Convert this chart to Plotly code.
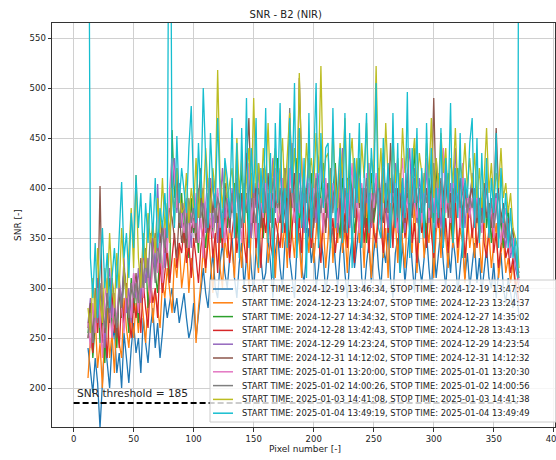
import plotly.graph_objects as go

# ---------------- data ----------------
pixels = list(range(12, 371, 2)) + [371]

start_times = ["2024-12-19 13:46:34", "2024-12-23 13:24:07", "2024-12-27 14:34:32",
               "2024-12-28 13:42:43", "2024-12-29 14:23:24", "2024-12-31 14:12:02",
               "2025-01-01 13:20:00", "2025-01-02 14:00:26", "2025-01-03 14:41:08",
               "2025-01-04 13:49:19"]
stop_times = ["2024-12-19 13:47:04", "2024-12-23 13:24:37", "2024-12-27 14:35:02",
              "2024-12-28 13:43:13", "2024-12-29 14:23:54", "2024-12-31 14:12:32",
              "2025-01-01 13:20:30", "2025-01-02 14:00:56", "2025-01-03 14:41:38",
              "2025-01-04 13:49:49"]

snr_1219 = [240, 215, 195, 230, 205, 160, 210, 250, 225, 200, 245, 260, 215, 235, 200, 255, 230, 205, 240, 265,
            235, 250, 215, 270, 245, 225, 260, 280, 240, 265, 230, 255, 290, 270, 285, 300, 275, 290, 265, 280,
            295, 270, 250, 260, 285, 250, 275, 300, 320, 295, 280, 310, 335, 300, 290, 325, 345, 315, 300, 330,
            350, 310, 290, 325, 345, 300, 335, 360, 320, 295, 340, 365, 330, 305, 315, 350, 325, 290, 335, 355,
            320, 300, 345, 365, 330, 310, 290, 340, 355, 320, 305, 335, 360, 325, 345, 300, 320, 350, 330, 295,
            315, 345, 360, 325, 300, 335, 355, 315, 290, 330, 350, 320, 340, 365, 310, 295, 325, 345, 305, 335,
            355, 320, 300, 340, 325, 360, 310, 290, 335, 350, 315, 345, 305, 330, 360, 325, 295, 340, 320, 305,
            330, 355, 320, 295, 345, 310, 335, 360, 325, 300, 340, 315, 350, 330, 295, 320, 345, 310, 335, 300,
            325, 345, 305, 330, 295, 320, 340, 310, 300, 325, 290, 315, 335, 300, 285, 310, 295, 280, 300, 285,
            270]
snr_1223 = [210, 250, 235, 270, 220, 245, 200, 260, 280, 230, 255, 215, 275, 245, 230, 290, 260, 240, 275, 250,
            285, 255, 300, 270, 245, 290, 310, 265, 295, 280, 260, 305, 290, 320, 300, 275, 330, 310, 345, 300,
            320, 345, 295, 330, 310, 245, 280, 305, 340, 315, 360, 330, 295, 345, 370, 320, 300, 350, 330, 365,
            340, 310, 375, 350, 320, 385, 345, 300, 360, 395, 335, 315, 370, 350, 390, 325, 345, 380, 310, 355,
            385, 340, 365, 320, 400, 355, 330, 375, 345, 310, 390, 360, 335, 380, 325, 355, 395, 340, 365, 320,
            350, 390, 325, 370, 345, 405, 335, 360, 315, 380, 355, 330, 395, 345, 370, 320, 385, 350, 310, 365,
            340, 375, 395, 330, 360, 310, 385, 350, 370, 325, 400, 345, 320, 380, 355, 335, 390, 315, 360, 375,
            330, 365, 345, 385, 310, 355, 375, 330, 395, 350, 320, 370, 340, 385, 325, 360, 345, 305, 375, 340,
            360, 330, 380, 345, 315, 370, 335, 355, 320, 345, 365, 310, 335, 350, 315, 330, 305, 325, 300, 310,
            295]
snr_1227 = [255, 280, 230, 265, 300, 245, 275, 225, 290, 310, 260, 280, 240, 300, 270, 320, 285, 255, 310, 275,
            300, 265, 320, 290, 335, 280, 305, 350, 315, 295, 340, 310, 360, 330, 305, 458, 390, 420, 360, 395,
            345, 375, 330, 390, 355, 370, 335, 395, 365, 340, 380, 410, 350, 375, 395, 345, 370, 405, 360, 385,
            375, 405, 350, 385, 420, 365, 395, 345, 410, 380, 360, 425, 385, 350, 400, 375, 415, 360, 390, 430,
            365, 395, 420, 370, 345, 405, 385, 430, 360, 390, 410, 355, 385, 415, 370, 400, 350, 395, 425, 375,
            405, 360, 390, 425, 375, 350, 410, 385, 365, 420, 395, 355, 380, 430, 370, 400, 345, 390, 415, 365,
            385, 420, 360, 395, 375, 410, 350, 390, 425, 370, 400, 355, 385, 415, 365, 395, 440, 375, 355, 405,
            380, 350, 410, 390, 365, 425, 375, 400, 355, 390, 415, 370, 345, 395, 420, 380, 360, 405, 375, 390,
            410, 365, 390, 350, 380, 405, 360, 385, 345, 375, 395, 350, 370, 340, 360, 380, 335, 350, 325, 315,
            305]
snr_1228 = [250, 270, 235, 285, 255, 300, 245, 265, 230, 280, 295, 255, 275, 240, 290, 265, 305, 270, 250, 285,
            270, 295, 255, 305, 280, 260, 310, 285, 300, 270, 325, 295, 315, 340, 305, 330, 355, 320, 345, 335,
            360, 325, 345, 310, 350, 330, 305, 340, 360, 320, 345, 370, 330, 355, 315, 365, 340, 380, 350, 325,
            355, 375, 335, 360, 395, 345, 325, 370, 350, 385, 340, 365, 320, 375, 355, 390, 345, 330, 370, 355,
            340, 375, 355, 390, 330, 360, 385, 345, 370, 335, 395, 355, 375, 340, 365, 390, 350, 325, 375, 360,
            385, 345, 370, 335, 360, 395, 350, 375, 340, 390, 355, 325, 380, 360, 400, 345, 370, 335, 385, 355,
            345, 380, 360, 335, 390, 355, 375, 340, 400, 365, 330, 385, 350, 370, 395, 345, 365, 325, 380, 355,
            370, 340, 385, 355, 330, 375, 360, 395, 345, 370, 335, 380, 355, 390, 340, 365, 375, 330, 360, 385,
            350, 375, 340, 365, 390, 345, 330, 360, 375, 335, 355, 320, 345, 365, 330, 340, 315, 330, 305, 295,
            285]
snr_1229 = [265, 290, 245, 275, 310, 260, 285, 240, 300, 320, 270, 295, 255, 310, 285, 330, 275, 300, 265, 315,
            290, 320, 285, 340, 305, 330, 295, 350, 315, 404, 340, 365, 320, 380, 345, 395, 430, 375, 405, 360,
            385, 355, 375, 340, 395, 365, 345, 380, 400, 355, 375, 410, 360, 390, 345, 380, 420, 370, 395, 355,
            400, 370, 420, 355, 390, 375, 435, 385, 350, 405, 380, 425, 365, 395, 415, 360, 390, 430, 375, 400,
            420, 375, 395, 360, 405, 445, 385, 370, 415, 390, 355, 400, 430, 380, 395, 365, 410, 435, 385, 400,
            370, 415, 385, 400, 355, 390, 440, 375, 405, 360, 395, 420, 380, 410, 365, 400, 385, 425, 360, 395,
            410, 375, 395, 435, 380, 360, 405, 390, 425, 370, 400, 385, 355, 415, 440, 375, 395, 365, 410, 390,
            385, 420, 365, 395, 375, 430, 400, 360, 390, 415, 380, 405, 370, 440, 395, 375, 410, 360, 395, 380,
            415, 375, 400, 360, 390, 370, 405, 355, 385, 365, 395, 350, 375, 360, 340, 365, 330, 345, 320, 310,
            300]
snr_1231 = [260, 285, 250, 300, 270, 402, 275, 255, 295, 265, 310, 280, 250, 300, 275, 320, 290, 265, 305, 285,
            315, 285, 330, 300, 340, 310, 290, 335, 355, 320, 345, 365, 335, 355, 380, 370, 350, 330, 375, 345,
            365, 340, 385, 355, 370, 345, 390, 420, 360, 380, 355, 400, 375, 395, 365, 385, 350, 405, 380, 360,
            390, 370, 410, 360, 395, 380, 425, 470, 385, 365, 405, 380, 360, 400, 385, 415, 370, 395, 380, 410,
            365, 395, 375, 350, 400, 380, 415, 375, 510, 420, 385, 400, 370, 395, 360, 410, 385, 375, 400, 355,
            405, 375, 395, 420, 365, 390, 375, 355, 410, 385, 400, 370, 415, 380, 395, 360, 400, 375, 390, 370,
            395, 420, 380, 365, 405, 375, 445, 390, 360, 400, 380, 410, 365, 395, 385, 370, 410, 385, 395, 375,
            380, 400, 375, 395, 490, 385, 365, 410, 390, 425, 370, 395, 355, 405, 385, 410, 375, 395, 380, 390,
            400, 375, 365, 390, 380, 405, 370, 385, 360, 380, 460, 395, 370, 385, 355, 370, 345, 360, 330, 320,
            315]
snr_0101 = [265, 240, 285, 255, 300, 270, 230, 290, 310, 275, 250, 295, 265, 305, 280, 255, 300, 285, 270, 315,
            300, 275, 320, 290, 340, 310, 285, 330, 350, 315, 345, 305, 360, 335, 400, 430, 415, 380, 400, 370,
            355, 390, 340, 375, 360, 395, 345, 370, 330, 385, 410, 365, 350, 380, 400, 360, 375, 345, 390, 370,
            390, 355, 415, 375, 345, 400, 380, 425, 365, 390, 350, 405, 385, 370, 410, 355, 395, 380, 420, 365,
            375, 410, 385, 355, 420, 390, 365, 400, 375, 430, 385, 360, 405, 380, 395, 415, 370, 390, 355, 410,
            380, 355, 405, 390, 365, 420, 375, 400, 360, 395, 425, 370, 390, 355, 405, 380, 415, 365, 395, 380,
            415, 375, 360, 400, 385, 420, 365, 395, 380, 355, 405, 430, 375, 390, 360, 410, 385, 370, 400, 365,
            395, 430, 370, 385, 405, 360, 415, 380, 440, 375, 395, 365, 410, 385, 400, 360, 425, 380, 395, 370,
            390, 360, 400, 375, 355, 385, 410, 365, 380, 350, 390, 370, 345, 365, 380, 350, 335, 350, 325, 315,
            305]
snr_0102 = [250, 275, 245, 290, 265, 305, 280, 260, 295, 275, 310, 285, 260, 300, 280, 320, 295, 270, 305, 290,
            305, 285, 325, 300, 340, 310, 355, 330, 305, 345, 325, 360, 340, 375, 355, 395, 380, 410, 365, 385,
            375, 350, 390, 365, 380, 355, 400, 370, 385, 360, 395, 375, 410, 365, 390, 380, 355, 400, 385, 370,
            395, 370, 410, 385, 360, 405, 375, 395, 415, 380, 365, 400, 385, 420, 375, 395, 365, 410, 390, 380,
            400, 375, 420, 390, 480, 405, 380, 415, 390, 370, 405, 385, 425, 395, 370, 410, 390, 375, 400, 385,
            395, 420, 375, 405, 385, 415, 365, 400, 380, 410, 390, 370, 420, 385, 400, 375, 410, 390, 365, 405,
            385, 405, 370, 420, 390, 375, 410, 385, 400, 370, 415, 390, 380, 405, 365, 395, 420, 385, 400, 375,
            415, 385, 400, 370, 425, 390, 375, 405, 385, 410, 395, 370, 400, 385, 415, 380, 395, 405, 375, 390,
            380, 400, 370, 390, 365, 385, 400, 375, 390, 360, 380, 395, 365, 375, 350, 365, 345, 340, 330, 320,
            310]
snr_0103 = [280, 255, 310, 270, 340, 290, 265, 320, 295, 355, 305, 280, 335, 300, 360, 315, 290, 340, 380, 320,
            413, 330, 300, 355, 320, 375, 345, 365, 335, 390, 355, 410, 360, 385, 345, 400, 365, 420, 395, 375,
            380, 415, 365, 400, 380, 430, 370, 405, 385, 440, 400, 375, 420, 395, 518, 410, 380, 425, 390, 405,
            420, 380, 450, 395, 430, 375, 410, 440, 390, 490, 400, 425, 385, 440, 405, 465, 395, 420, 440, 385,
            415, 450, 390, 435, 475, 400, 440, 385, 515, 420, 395, 445, 410, 430, 400, 455, 415, 522, 405, 430,
            435, 390, 460, 405, 380, 445, 410, 470, 395, 425, 450, 400, 430, 385, 445, 410, 465, 395, 430, 415,
            522, 400, 440, 385, 465, 410, 395, 450, 405, 430, 395, 460, 415, 440, 385, 425, 450, 400, 435, 415,
            395, 445, 410, 470, 390, 430, 400, 455, 415, 440, 385, 430, 405, 460, 395, 425, 410, 445, 400, 430,
            400, 435, 390, 420, 380, 410, 460, 395, 425, 385, 415, 400, 440, 390, 405, 375, 395, 360, 350, 340,
            320]
snr_0104 = [900, 330, 290, 345, 270, 320, 360, 300, 335, 280, 315, 340, 300, 355, 406, 330, 355, 310, 375, 340,
            413, 360, 395, 330, 385, 345, 395, 350, 410, 340, 380, 360, 395, 350, 900, 405, 360, 452, 385, 420,
            400, 375, 440, 482, 395, 365, 445, 390, 500, 420, 360, 455, 400, 380, 470, 395, 350, 430, 410, 370,
            470, 350, 445, 330, 460, 365, 490, 340, 440, 395, 470, 320, 420, 375, 480, 345, 435, 310, 465, 385,
            485, 355, 400, 340, 470, 395, 505, 330, 460, 360, 430, 310, 475, 350, 420, 505, 340, 455, 380, 440,
            445, 340, 480, 360, 400, 440, 345, 475, 355, 455, 320, 430, 385, 465, 340, 410, 475, 355, 440, 395,
            505, 360, 350, 450, 380, 425, 340, 475, 360, 445, 315, 410, 370, 496, 330, 440, 385, 460, 345, 420,
            350, 465, 380, 440, 335, 400, 370, 460, 340, 430, 385, 485, 345, 420, 370, 455, 330, 410, 390, 445,
            470, 360, 450, 345, 435, 365, 430, 350, 410, 375, 455, 340, 420, 365, 395, 340, 380, 330, 350, 310,
            900]

series = [snr_1219, snr_1223, snr_1227, snr_1228, snr_1229,
          snr_1231, snr_0101, snr_0102, snr_0103, snr_0104]

threshold = 185
threshold_x = [0, 370]

x_ticks = [0, 50, 100, 150, 200, 250, 300, 350, 400]
y_ticks = [200, 250, 300, 350, 400, 450, 500, 550]

colors = ["#1f77b4", "#ff7f0e", "#2ca02c", "#d62728", "#9467bd",
          "#8c564b", "#e377c2", "#7f7f7f", "#bcbd22", "#17becf"]

labels = [f"START TIME: {a}, STOP TIME: {b}" for a, b in zip(start_times, stop_times)]

# ---------------- figure ----------------
FONT = "DejaVu Sans"
W, H = 556, 460
L, R, T, B = 52, 1, 23, 33
PW, PH = W - L - R, H - T - B

def px_x(p):
    return (p - L) / PW

def px_y(p):
    return (H - B - p) / PH

fig = go.Figure()
for vals, col, lab in zip(series, colors, labels):
    n = min(len(vals), len(pixels))
    fig.add_trace(go.Scatter(x=pixels[:n], y=vals[:n], mode="lines", name=lab,
                             line=dict(color=col, width=1.3), showlegend=False))

fig.add_trace(go.Scatter(x=threshold_x, y=[threshold, threshold], mode="lines",
                         line=dict(color="black", width=2, dash="6px,3px"),
                         showlegend=False, name="SNR threshold"))

shapes = []
annotations = []
# legend box
shapes.append(dict(type="rect", xref="paper", yref="paper",
                   x0=px_x(210), x1=1.004, y0=px_y(422), y1=px_y(280),
                   line=dict(color="#cccccc", width=1),
                   fillcolor="rgba(255,255,255,0.8)", layer="above"))
for k, (col, lab) in enumerate(zip(colors, labels)):
    yc = 289 + 13.8 * k
    shapes.append(dict(type="line", xref="paper", yref="paper",
                       x0=px_x(213), x1=px_x(233), y0=px_y(yc), y1=px_y(yc),
                       line=dict(color=col, width=1.5), layer="above"))
    annotations.append(dict(x=px_x(240), y=px_y(yc), xref="paper", yref="paper",
                            text=lab, showarrow=False, xanchor="left", yanchor="middle",
                            font=dict(family=FONT, size=8.4, color="#222")))

annotations.append(dict(x=1, y=threshold + 2, xref="x", yref="y",
                        text=f"SNR threshold = {threshold}", showarrow=False,
                        xanchor="left", yanchor="bottom",
                        font=dict(family=FONT, size=10.6, color="#222")))
# axis titles
annotations.append(dict(x=px_x(305), y=px_y(449), xref="paper", yref="paper",
                        text="Pixel number [-]", showarrow=False,
                        xanchor="center", yanchor="middle",
                        font=dict(family=FONT, size=9, color="#222")))
annotations.append(dict(x=px_x(18), y=px_y(225), xref="paper", yref="paper",
                        text="SNR [-]", showarrow=False, textangle=-90,
                        xanchor="center", yanchor="middle",
                        font=dict(family=FONT, size=9, color="#222")))

fig.update_layout(
    width=W, height=H,
    margin=dict(l=L, r=R, t=T, b=B, autoexpand=False),
    paper_bgcolor="white", plot_bgcolor="white",
    showlegend=False,
    title=dict(text="SNR - B2 (NIR)", x=0.514, xref="container", xanchor="center",
               y=1 - 14 / H, yref="container", yanchor="middle",
               font=dict(family=FONT, size=10, color="#222")),
    shapes=shapes, annotations=annotations,
    font=dict(family=FONT, size=8.5, color="#222"),
)
fig.update_xaxes(range=[-18, 401], tickvals=x_ticks, showgrid=True, gridcolor="#d0d0d0",
                 gridwidth=1, zeroline=False, showline=True, linecolor="#333", linewidth=1,
                 mirror=True, ticks="outside", ticklen=3.5, tickcolor="#333", automargin=False,
                 ticklabeloverflow="allow",
                 tickfont=dict(family=FONT, size=8.5, color="#222"))
fig.update_yaxes(range=[161, 565], tickvals=y_ticks, showgrid=True, gridcolor="#d0d0d0",
                 gridwidth=1, zeroline=False, showline=True, linecolor="#333", linewidth=1,
                 mirror=True, ticks="outside", ticklen=3.5, tickcolor="#333", automargin=False,
                 ticklabeloverflow="allow",
                 tickfont=dict(family=FONT, size=8.5, color="#222"))

fig.write_html("out.html",
               config={"displayModeBar": False},
               post_script="document.documentElement.style.margin='0';"
                           "document.body.style.margin='0';"
                           "document.body.style.overflow='hidden';")
